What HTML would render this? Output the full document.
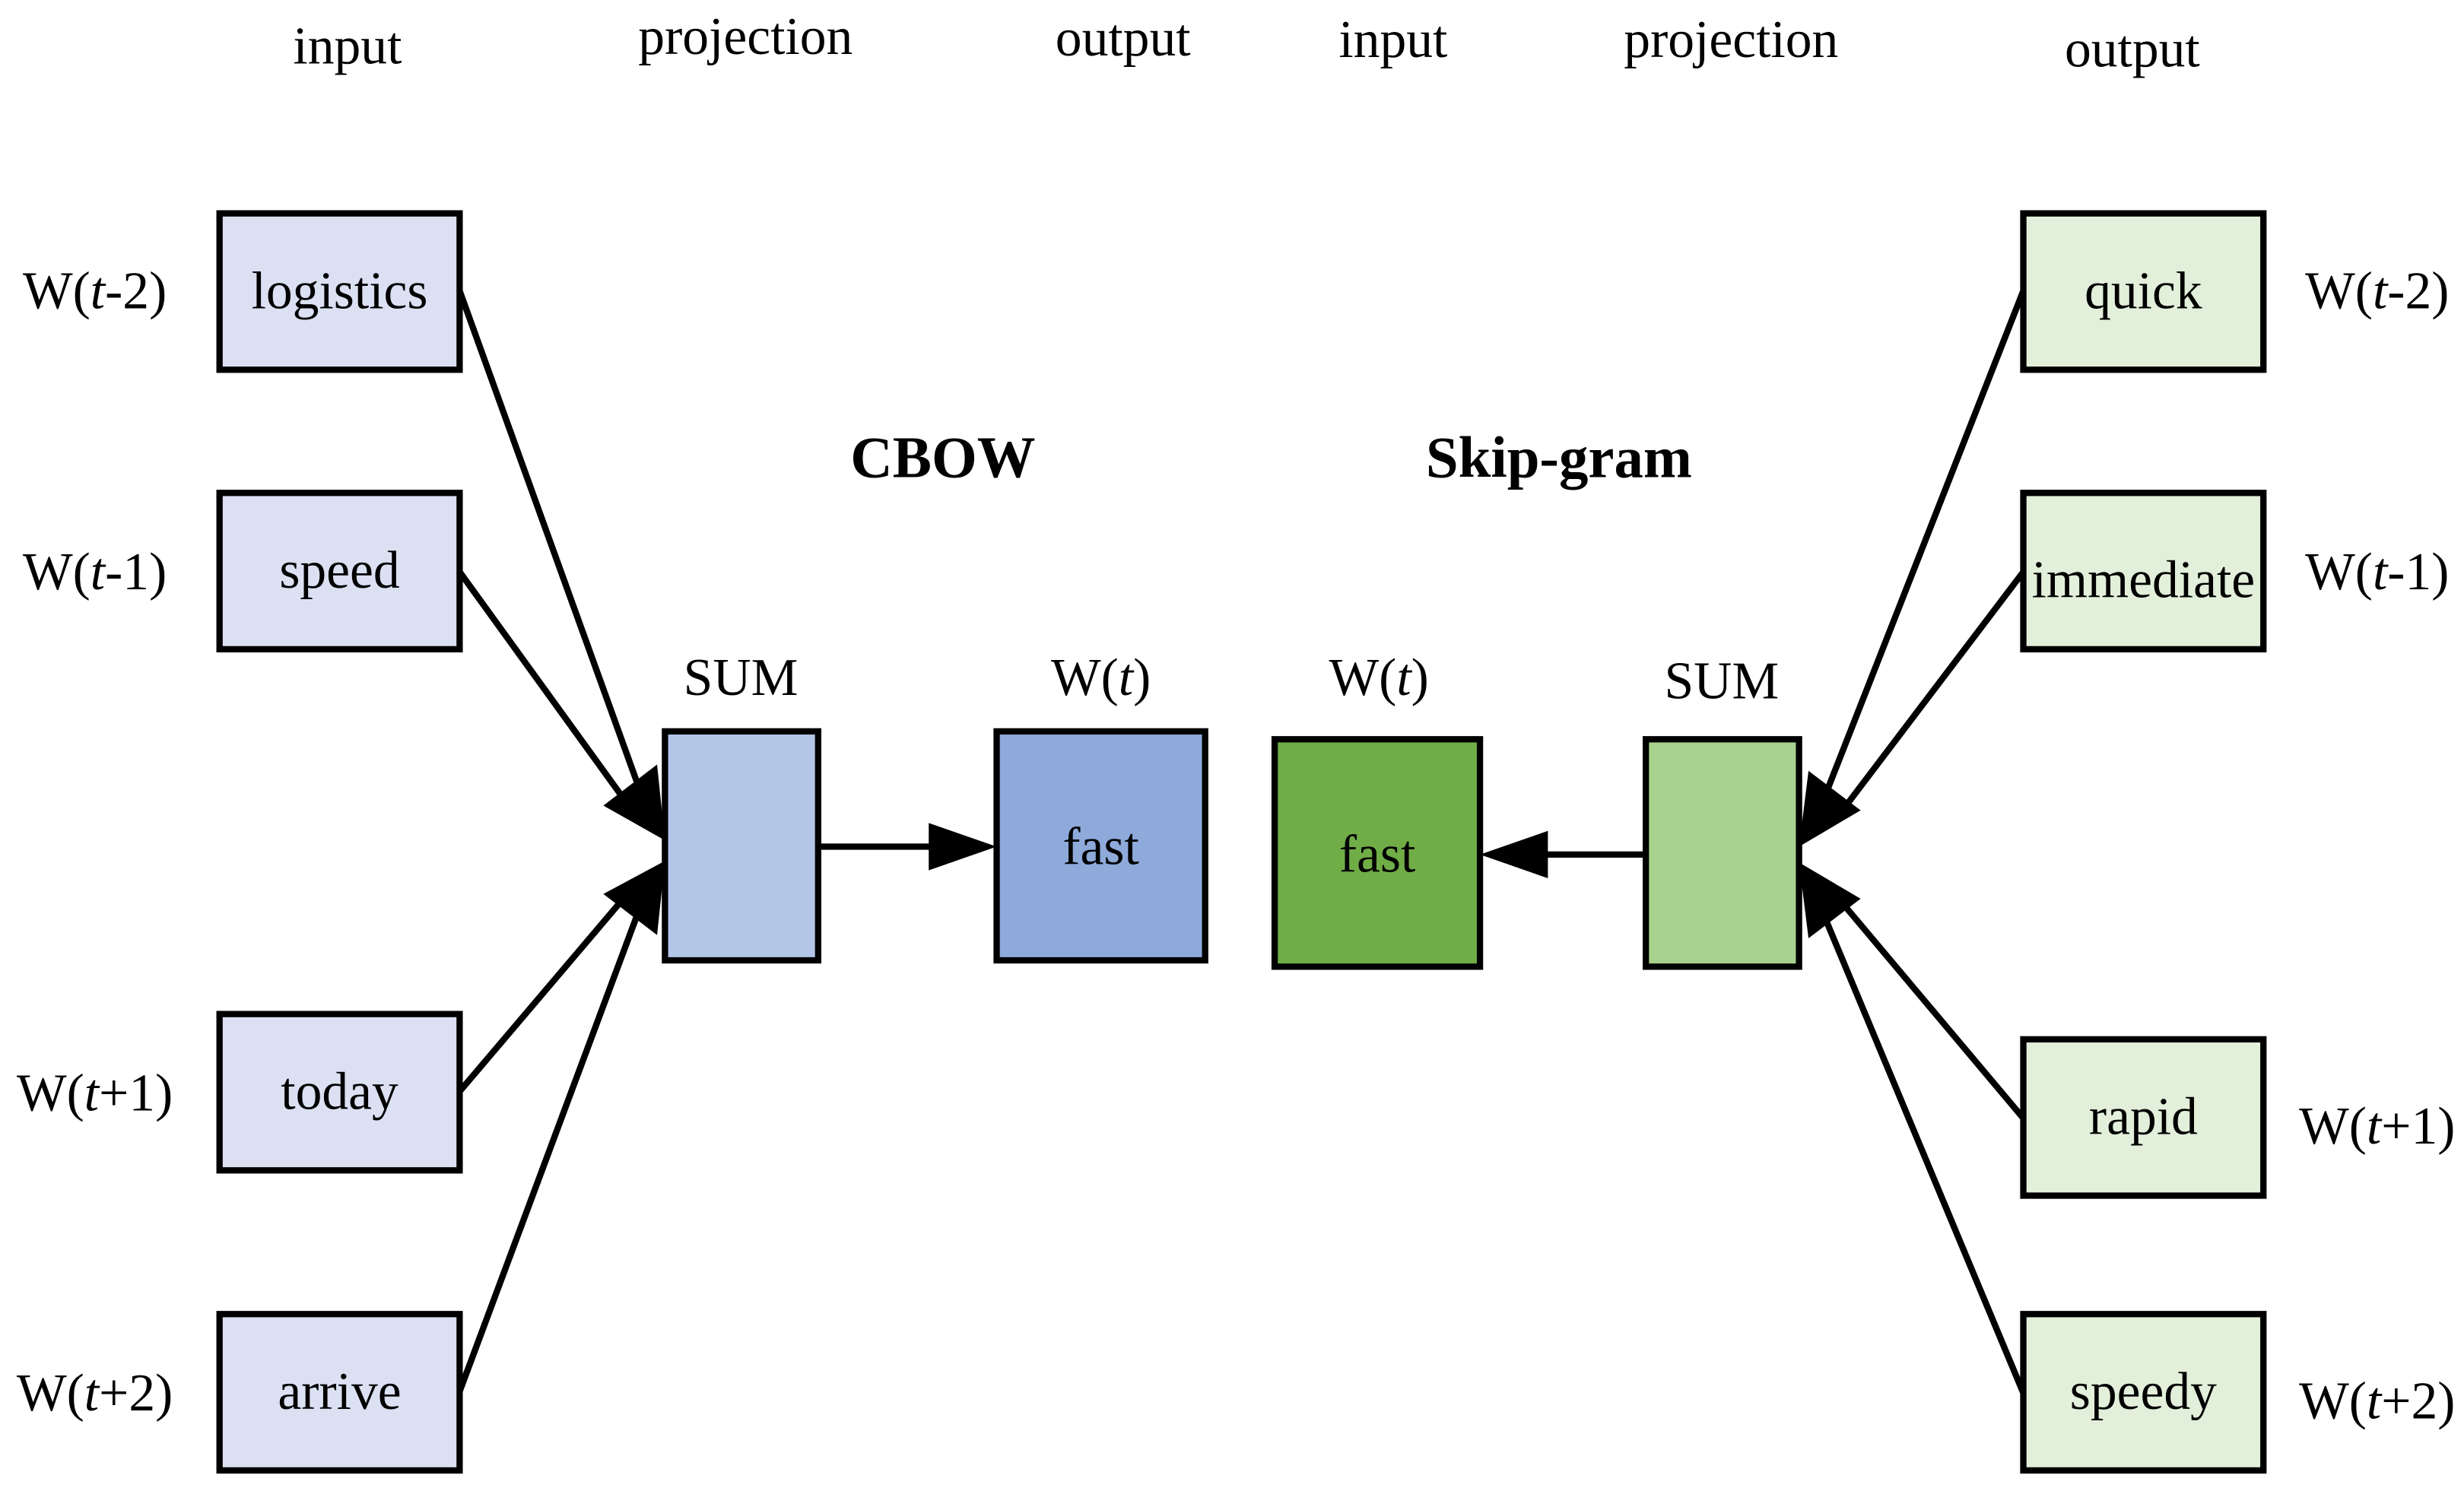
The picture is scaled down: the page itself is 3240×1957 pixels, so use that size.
<!DOCTYPE html>
<html><head><meta charset="utf-8"><style>html,body{margin:0;padding:0;background:#fff}svg{display:block}</style></head>
<body>
<svg width="3240" height="1957" viewBox="0 0 1560 942" xmlns="http://www.w3.org/2000/svg" font-family="Liberation Serif, serif">
<rect width="1560" height="942" fill="#fff"/>
<g font-size="33.5" text-anchor="middle" fill="#000">
<text x="220" y="40">input</text>
<text x="472" y="34">projection</text>
<text x="711" y="35">output</text>
<text x="882" y="36">input</text>
<text x="1096" y="36">projection</text>
<text x="1350" y="42">output</text>
<text x="597" y="302" font-weight="bold" font-size="37">CBOW</text>
<text x="987" y="302" font-weight="bold" font-size="37">Skip-gram</text>
<text x="469" y="440">SUM</text>
<text x="697" y="440">W(<tspan font-style="italic">t</tspan>)</text>
<text x="873" y="440">W(<tspan font-style="italic">t</tspan>)</text>
<text x="1090" y="442">SUM</text>
<text x="60" y="195">W(<tspan font-style="italic">t</tspan>-2)</text>
<text x="60" y="373">W(<tspan font-style="italic">t</tspan>-1)</text>
<text x="60" y="703">W(<tspan font-style="italic">t</tspan>+1)</text>
<text x="60" y="893">W(<tspan font-style="italic">t</tspan>+2)</text>
<text x="1505" y="195">W(<tspan font-style="italic">t</tspan>-2)</text>
<text x="1505" y="373">W(<tspan font-style="italic">t</tspan>-1)</text>
<text x="1505" y="724">W(<tspan font-style="italic">t</tspan>+1)</text>
<text x="1505" y="898">W(<tspan font-style="italic">t</tspan>+2)</text>
</g>
<g stroke="#000" stroke-width="4" fill="none">
<line x1="291" y1="184" x2="405" y2="500"/>
<line x1="291" y1="362" x2="398" y2="510"/>
<line x1="291" y1="691" x2="398" y2="565"/>
<line x1="291" y1="881" x2="405" y2="575"/>
<line x1="518" y1="536" x2="595" y2="536"/>
<line x1="1042" y1="541" x2="975" y2="541"/>
<line x1="1281" y1="184" x2="1155" y2="505"/>
<line x1="1281" y1="362" x2="1165" y2="515"/>
<line x1="1281" y1="708" x2="1165" y2="570"/>
<line x1="1281" y1="882" x2="1155" y2="580"/>
</g>
<g fill="#000">
<polygon points="421,532 382,510 416,484"/>
<polygon points="421,545 382,566 416,592"/>
<polygon points="631,536 588,521 588,551"/>
<polygon points="937,541 980,526 980,556"/>
<polygon points="1139,536 1178,513 1145,488"/>
<polygon points="1139,546 1178,569 1145,594"/>
</g>
<g stroke="#000" stroke-width="4">
<rect x="139" y="135" width="152" height="99" fill="#dbe1f3"/>
<rect x="139" y="312" width="152" height="99" fill="#dbe1f3"/>
<rect x="139" y="642" width="152" height="99" fill="#dbe1f3"/>
<rect x="139" y="832" width="152" height="99" fill="#dbe1f3"/>
<rect x="421" y="463" width="97" height="145" fill="#b4c6e7"/>
<rect x="631" y="463" width="132" height="145" fill="#8eaadb"/>
<rect x="807" y="468" width="130" height="144" fill="#70ad47"/>
<rect x="1042" y="468" width="97" height="144" fill="#a9d18e"/>
<rect x="1281" y="135" width="152" height="99" fill="#e2efda"/>
<rect x="1281" y="312" width="152" height="99" fill="#e2efda"/>
<rect x="1281" y="658" width="152" height="99" fill="#e2efda"/>
<rect x="1281" y="832" width="152" height="99" fill="#e2efda"/>
</g>
<g font-size="33.5" text-anchor="middle" fill="#000">
<text x="215" y="195">logistics</text>
<text x="215" y="372">speed</text>
<text x="215" y="702">today</text>
<text x="215" y="892">arrive</text>
<text x="697" y="547">fast</text>
<text x="872" y="552">fast</text>
<text x="1357" y="195">quick</text>
<text x="1357" y="378">immediate</text>
<text x="1357" y="718">rapid</text>
<text x="1357" y="892">speedy</text>
</g>
</svg>
</body></html>
